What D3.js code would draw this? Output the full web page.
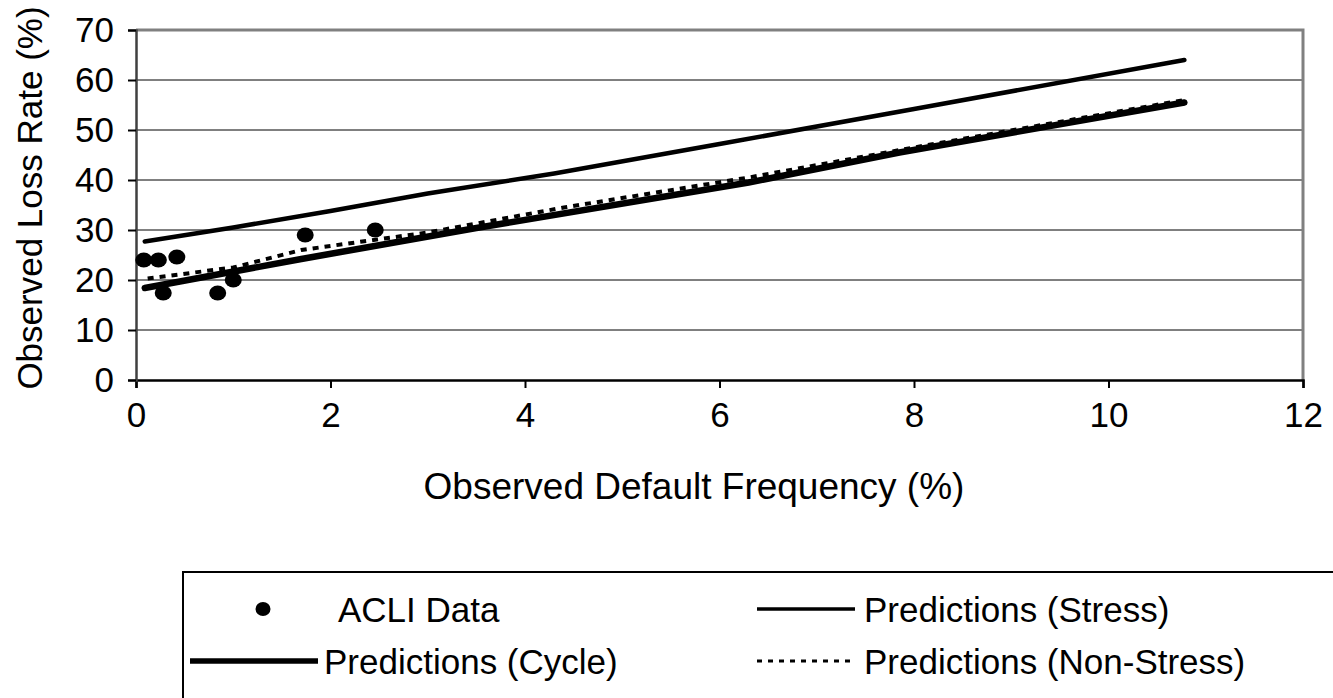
<!DOCTYPE html>
<html>
<head>
<meta charset="utf-8">
<script src="https://cdn.jsdelivr.net/npm/d3@7"></script>
<style>
  body { margin: 0; background: #fff; }
  text { font-family: "Liberation Sans", Arial, sans-serif; fill: #000; }
</style>
</head>
<body>
<div id="chart"></div>
<script>
// data
let acliX = [0.08, 0.23, 0.42, 0.28, 0.84, 1.0, 1.74, 2.46];
let acliY = [24, 24, 24.6, 17.4, 17.4, 20, 29, 30];

let stressX = [0.09, 1, 2, 3, 4.3, 6, 8, 10.78];
let stressY = [27.7, 30.5, 33.8, 37.3, 41.3, 47.2, 54.2, 64];

let cycleX = [0.09, 1.7, 3.5, 6.3, 7.85, 10.78];
let cycleY = [18.4, 24.2, 30.4, 39.5, 45.5, 55.5];

let nonStressX = [0.12, 1, 1.7, 3, 4.4, 6.3, 8, 10.78];
let nonStressY = [20.3, 22.5, 26, 29.5, 34.5, 40.5, 46.5, 56];

let xTicks = [0, 2, 4, 6, 8, 10, 12];
let yTicks = [0, 10, 20, 30, 40, 50, 60, 70];

let legendLabels = ["ACLI Data", "Predictions (Stress)", "Predictions (Cycle)", "Predictions (Non-Stress)"];

let margin = {top: 30, right: 30, bottom: 318, left: 136};
let width = 1333 - margin.left - margin.right;
let height = 698 - margin.top - margin.bottom;

let fontSize = 35;

let svg = d3.select("#chart").append("svg")
    .attr("width", 1333)
    .attr("height", 698);

let g = svg.append("g")
    .attr("transform", "translate(" + margin.left + "," + margin.top + ")");

let x = d3.scaleLinear().domain([0, 12]).range([0, width]);
let y = d3.scaleLinear().domain([0, 70]).range([height, 0]);

// gridlines
g.selectAll(".grid").data(yTicks.slice(1, -1)).enter()
    .append("line")
    .attr("x1", 0).attr("x2", width)
    .attr("y1", d => y(d)).attr("y2", d => y(d))
    .attr("stroke", "#000").attr("stroke-width", 1);

// plot border (gray)
g.append("path")
    .attr("d", "M0," + y(70) + "H" + x(12) + "V" + y(0))
    .attr("fill", "none").attr("stroke", "#808080").attr("stroke-width", 3);

// axes
let xAxis = d3.axisBottom(x).tickValues(xTicks).tickSize(8).tickPadding(14);
let yAxis = d3.axisLeft(y).tickValues(yTicks).tickSize(8).tickPadding(14);

let xGroup = g.append("g")
    .attr("transform", "translate(0," + height + ")")
    .call(xAxis);
let yGroup = g.append("g").call(yAxis);

[xGroup, yGroup].forEach(a => {
    a.select(".domain").attr("stroke", "#000").attr("stroke-width", 2.5);
    a.selectAll(".tick line").attr("stroke", "#000").attr("stroke-width", 2);
    a.selectAll(".tick text")
        .style("font-size", fontSize + "px").attr("fill", "#000");
});
yGroup.select(".domain").attr("stroke", "#404040");

// lines
let line = d3.line().x(d => x(d[0])).y(d => y(d[1]));

g.append("path")
    .datum(d3.zip(stressX, stressY))
    .attr("d", line)
    .attr("fill", "none").attr("stroke", "#000").attr("stroke-width", 4.5)
    .attr("stroke-linecap", "round");

g.append("path")
    .datum(d3.zip(nonStressX, nonStressY))
    .attr("d", line)
    .attr("fill", "none").attr("stroke", "#000").attr("stroke-width", 4)
    .attr("stroke-dasharray", "6,6");

g.append("path")
    .datum(d3.zip(cycleX, cycleY))
    .attr("d", line)
    .attr("fill", "none").attr("stroke", "#000").attr("stroke-width", 6.5)
    .attr("stroke-linecap", "round");

g.selectAll(".dot").data(d3.zip(acliX, acliY)).enter()
    .append("ellipse")
    .attr("cx", d => x(d[0])).attr("cy", d => y(d[1]))
    .attr("rx", 8.5).attr("ry", 7.5)
    .attr("fill", "#000");

// axis titles
svg.append("text")
    .attr("x", 694).attr("y", 499)
    .attr("text-anchor", "middle")
    .style("font-size", "37px")
    .text("Observed Default Frequency (%)");

svg.append("text")
    .attr("transform", "translate(42,198) rotate(-90)")
    .attr("text-anchor", "middle")
    .style("font-size", fontSize + "px")
    .text("Observed Loss Rate (%)");

// legend
let legend = svg.append("g");
legend.append("rect")
    .attr("x", 183).attr("y", 572)
    .attr("width", 1160).attr("height", 140)
    .attr("fill", "#fff").attr("stroke", "#000").attr("stroke-width", 2);

function legendText(tx, ty, str) {
    legend.append("text")
        .attr("x", tx).attr("y", ty)
        .style("font-size", fontSize + "px")
        .text(str);
}

legend.append("ellipse")
    .attr("cx", 263).attr("cy", 609).attr("rx", 7.5).attr("ry", 7).attr("fill", "#000");
legendText(338, 622, legendLabels[0]);

legend.append("line")
    .attr("x1", 757).attr("x2", 855).attr("y1", 609).attr("y2", 609)
    .attr("stroke", "#000").attr("stroke-width", 3.5);
legendText(864, 622, legendLabels[1]);

legend.append("line")
    .attr("x1", 190).attr("x2", 318).attr("y1", 661).attr("y2", 661)
    .attr("stroke", "#000").attr("stroke-width", 5.5);
legendText(324, 674, legendLabels[2]);

legend.append("line")
    .attr("x1", 757).attr("x2", 855).attr("y1", 661).attr("y2", 661)
    .attr("stroke", "#000").attr("stroke-width", 3)
    .attr("stroke-dasharray", "5,6");
legendText(864, 674, legendLabels[3]);
</script>
</body>
</html>
